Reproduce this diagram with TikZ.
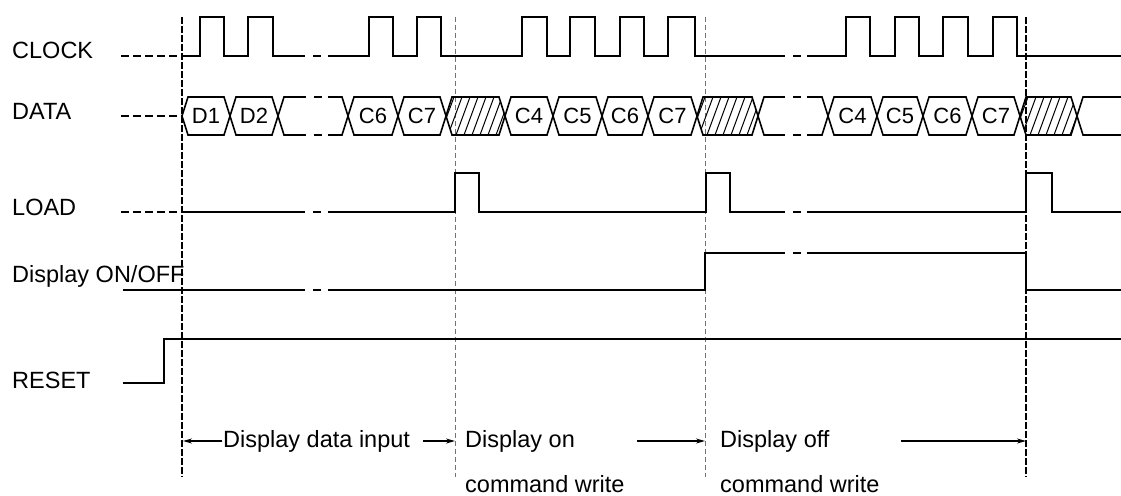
\documentclass[tikz,border=0pt]{standalone}
\usepackage{fontspec}
\setmainfont{Liberation Sans}
\usetikzlibrary{arrows.meta}
\newcommand\hexcell[4]{%
  \draw[sig] (#2,116) -- (#2+6,97) -- (#3-6,97) -- (#3,116) -- (#3-6,135) -- (#2+6,135) -- cycle;
  \node[cell] (#1) at ({(#2+#3)/2},116) {#4};}
\newcommand\hatchcell[3]{%
  \begin{scope}
    \clip (#2,116) -- (#2+6,97) -- (#3-6,97) -- (#3,116) -- (#3-6,135) -- (#2+6,135) -- cycle;
    \foreach \k in {0,8,...,88} \draw[hatch] (#2-14+\k,135) -- (#2+\k,97);
  \end{scope}
  \draw[sig] (#2,116) -- (#2+6,97) -- (#3-6,97) -- (#3,116) -- (#3-6,135) -- (#2+6,135) -- cycle;
  \coordinate (#1) at ({(#2+#3)/2},116);}
\begin{document}
\begin{tikzpicture}[x=1pt,y=-1pt,line join=miter,
  sig/.style={line width=1.6pt},
  lead/.style={line width=1.6pt,dash pattern=on 8pt off 4pt},
  gapd/.style={line width=1.6pt,dash pattern=on 8pt off 8pt},
  markA/.style={line width=2.2pt,dash pattern=on 7pt off 2pt},
  markB/.style={line width=0.9pt,black!55,dash pattern=on 5pt off 3pt},
  hatch/.style={line width=1pt},
  lbl/.style={font=\fontsize{23.5}{28}\selectfont,anchor=base west,inner sep=0pt},
  cell/.style={font=\fontsize{22}{26}\selectfont,inner sep=0pt},
  arr/.style={line width=1.3pt,-{Stealth[length=9pt,width=5pt]}}]
\useasboundingbox (0,0) rectangle (1121,495);

% labels
\node[lbl] (lclk) at (12,59) {CLOCK};
\node[lbl] (ldat) at (12,119) {DATA};
\node[lbl] (lload) at (12,215) {LOAD};
\node[lbl] (ldisp) at (12,282) {Display ON/OFF};
\node[lbl] (lrst) at (12,388) {RESET};

% vertical markers
\draw[markA] (182,17) -- (182,477);
\draw[markB] (455,17) -- (455,477);
\draw[markB] (705,17) -- (705,477);
\draw[markA] (1026,17) -- (1026,477);

% CLOCK
\draw[lead] (121,56) -- (182,56);
\draw[sig] (182,56) -- (200,56) -- (200,17) -- (224,17) -- (224,56) -- (248,56) -- (248,17) -- (273,17) -- (273,56) -- (297,56);
\draw[gapd] (297,56) -- (328,56);
\draw[sig] (328,56) -- (369,56) -- (369,17) -- (393,17) -- (393,56) -- (417,56) -- (417,17) -- (441,17) -- (441,56)
  -- (522,56) -- (522,17) -- (547,17) -- (547,56) -- (570,56) -- (570,17) -- (595,17) -- (595,56)
  -- (620,56) -- (620,17) -- (644,17) -- (644,56) -- (668,56) -- (668,17) -- (695,17) -- (695,56) -- (777,56);
\draw[gapd] (777,56) -- (807,56);
\draw[sig] (807,56) -- (846,56) -- (846,17) -- (870,17) -- (870,56) -- (895,56) -- (895,17) -- (919,17) -- (919,56)
  -- (943,56) -- (943,17) -- (968,17) -- (968,56) -- (993,56) -- (993,17) -- (1017,17) -- (1017,56) -- (1121,56);

% DATA
\draw[lead] (121,116) -- (182,116);
\hexcell{d1}{182}{230}{D1}
\hexcell{d2}{230}{278}{D2}
\draw[sig] (278,116) -- (284,97) -- (298,97);
\draw[gapd] (298,97) -- (328,97);
\draw[sig] (328,97) -- (342,97) -- (348,116);
\draw[sig] (278,116) -- (284,135) -- (298,135);
\draw[gapd] (298,135) -- (328,135);
\draw[sig] (328,135) -- (342,135) -- (348,116);
\hexcell{a6}{348}{398}{C6}
\hexcell{a7}{398}{446}{C7}
\hatchcell{h1}{446}{505}
\hexcell{b4}{505}{553}{C4}
\hexcell{b5}{553}{602}{C5}
\hexcell{b6}{602}{648}{C6}
\hexcell{b7}{648}{697}{C7}
\hatchcell{h2}{697}{758}
\draw[sig] (758,116) -- (764,97) -- (777,97);
\draw[gapd] (777,97) -- (807,97);
\draw[sig] (807,97) -- (822,97) -- (828,116);
\draw[sig] (758,116) -- (764,135) -- (777,135);
\draw[gapd] (777,135) -- (807,135);
\draw[sig] (807,135) -- (822,135) -- (828,116);
\hexcell{c4}{828}{877}{C4}
\hexcell{c5}{877}{923}{C5}
\hexcell{c6}{923}{972}{C6}
\hexcell{c7}{972}{1020}{C7}
\hatchcell{h3}{1020}{1077}
\draw[sig] (1121,97) -- (1083,97) -- (1077,116) -- (1083,135) -- (1121,135);

% LOAD
\draw[lead] (121,212) -- (182,212);
\draw[sig] (182,212) -- (297,212);
\draw[gapd] (297,212) -- (328,212);
\draw[sig] (328,212) -- (455,212) -- (455,173) -- (479,173) -- (479,212) -- (706,212) -- (706,173) -- (730,173) -- (730,212) -- (777,212);
\draw[gapd] (777,212) -- (807,212);
\draw[sig] (807,212) -- (1026,212) -- (1026,173) -- (1052,173) -- (1052,212) -- (1121,212);

% Display ON/OFF
\draw[sig] (123,290) -- (297,290);
\draw[gapd] (297,290) -- (328,290);
\draw[sig] (328,290) -- (705,290) -- (705,253) -- (777,253);
\draw[gapd] (777,253) -- (807,253);
\draw[sig] (807,253) -- (1026,253) -- (1026,290) -- (1121,290);

% RESET
\draw[sig] (123,383) -- (164,383) -- (164,339) -- (1121,339);

% bottom annotations
\node[lbl] (t1) at (223,447) {Display data input};
\node[lbl] (t2) at (465,447) {Display on};
\node[lbl] (t2b) at (465,492) {command write};
\node[lbl] (t3) at (720,447) {Display off};
\node[lbl] (t3b) at (720,492) {command write};
\coordinate (p1s) at (222,441); \coordinate (p1e) at (183,441);
\coordinate (p2s) at (423,441); \coordinate (p2e) at (455,441);
\coordinate (p3s) at (637,441); \coordinate (p3e) at (705,441);
\coordinate (p4s) at (901,441); \coordinate (p4e) at (1026,441);
\draw[arr] (p1s) -- (p1e);
\draw[arr] (p2s) -- (p2e);
\draw[arr] (p3s) -- (p3e);
\draw[arr] (p4s) -- (p4e);
\end{tikzpicture}
\end{document}
